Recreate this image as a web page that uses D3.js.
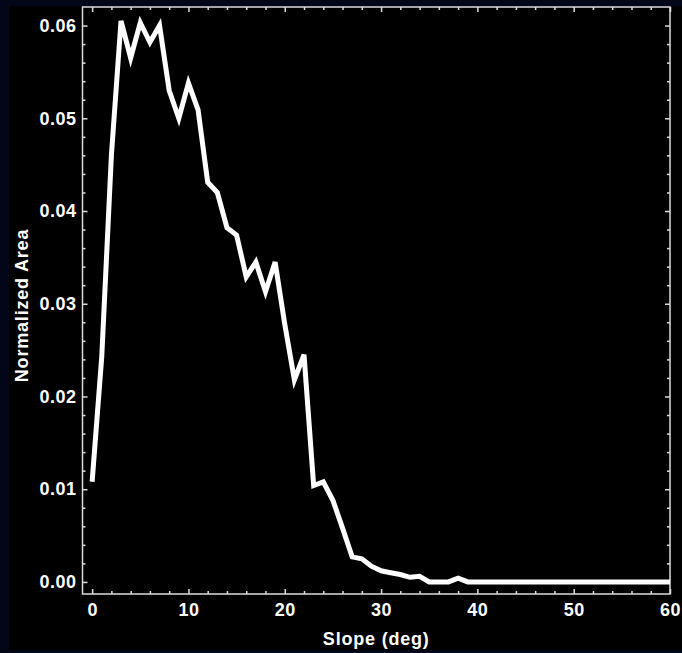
<!DOCTYPE html>
<html>
<head>
<meta charset="utf-8">
<script src="https://cdn.jsdelivr.net/npm/d3@7"></script>
<style>
  html, body { margin: 0; padding: 0; background: #020618; }
  svg { display: block; }
  .axis text { fill: #ffffff; font-family: "Liberation Sans", Arial, sans-serif; font-weight: bold; font-size: 18px; letter-spacing: 0.5px; }
  .axis line { stroke: #dcdcdc; stroke-width: 1.5; }
  .axis path { display: none; }
  .axis-label { fill: #ffffff; font-family: "Liberation Sans", Arial, sans-serif; font-weight: bold; font-size: 18px; letter-spacing: 0.8px; }
</style>
</head>
<body>
<svg id="chart"></svg>
<script>
// slope bins (deg) and normalized area per bin
const slopeDeg = [0, 1, 2, 3, 4, 5, 6, 7, 8, 9, 10, 11, 12, 13, 14, 15, 16, 17, 18, 19, 20,
  21, 22, 23, 24, 25, 26, 27, 28, 29, 30, 31, 32, 33, 34, 35, 36, 37, 38, 39, 40,
  41, 42, 43, 44, 45, 46, 47, 48, 49, 50, 51, 52, 53, 54, 55, 56, 57, 58, 59, 60];
const normArea = [0.0108, 0.0243, 0.0460, 0.0605, 0.0565, 0.0603, 0.0582, 0.0600, 0.0530, 0.0500,
  0.0538, 0.0509, 0.0431, 0.0420, 0.0382, 0.0374, 0.0329, 0.0345, 0.0313, 0.0345,
  0.0278, 0.0218, 0.0245, 0.0104, 0.0108, 0.0088, 0.0058, 0.0027, 0.0025, 0.0017,
  0.0012, 0.0010, 0.0008, 0.0005, 0.0006, 0.0000, 0.0000, 0.0000, 0.0004, 0.0000,
  0, 0, 0, 0, 0, 0, 0, 0, 0, 0, 0, 0, 0, 0, 0, 0, 0, 0, 0, 0, 0];

const xMajor = [0, 10, 20, 30, 40, 50, 60];
const xMinor = [2, 4, 6, 8, 12, 14, 16, 18, 22, 24, 26, 28, 32, 34, 36, 38, 42, 44, 46, 48, 52, 54, 56, 58];
const yMajor = [0, 0.01, 0.02, 0.03, 0.04, 0.05, 0.06];
const yMinor = [0.002, 0.004, 0.006, 0.008, 0.012, 0.014, 0.016, 0.018, 0.022, 0.024, 0.026, 0.028,
  0.032, 0.034, 0.036, 0.038, 0.042, 0.044, 0.046, 0.048, 0.052, 0.054, 0.056, 0.058];

const W = 682, H = 653;
const plot = { left: 82.5, right: 670, top: 7, bottom: 594 };

const svg = d3.select('#chart')
    .attr('width', W)
    .attr('height', H);

// black panel inside the navy border
svg.append('rect')
    .attr('x', 9).attr('y', 6)
    .attr('width', W - 9).attr('height', 644)
    .attr('fill', '#000000');

const x = d3.scaleLinear().domain([-1, 60]).range([plot.left, plot.right]);
const y = d3.scaleLinear().domain([-0.0013, 0.062]).range([plot.bottom, plot.top]);

// frame
svg.append('rect')
    .attr('x', plot.left).attr('y', plot.top)
    .attr('width', plot.right - plot.left)
    .attr('height', plot.bottom - plot.top)
    .attr('fill', 'none')
    .attr('stroke', '#dcdcdc')
    .attr('stroke-width', 1.5);

// bottom axis (labels + inward ticks)
svg.append('g').attr('class', 'axis')
    .attr('transform', `translate(0,${plot.bottom})`)
    .call(d3.axisBottom(x).tickValues(xMajor).tickSize(-5).tickPadding(9).tickFormat(d3.format('d')));
svg.append('g').attr('class', 'axis')
    .attr('transform', `translate(0,${plot.bottom})`)
    .call(d3.axisBottom(x).tickValues(xMinor).tickSize(-3).tickFormat(''));

// top axis (ticks only)
svg.append('g').attr('class', 'axis')
    .attr('transform', `translate(0,${plot.top})`)
    .call(d3.axisTop(x).tickValues(xMajor).tickSize(-5).tickFormat(''));
svg.append('g').attr('class', 'axis')
    .attr('transform', `translate(0,${plot.top})`)
    .call(d3.axisTop(x).tickValues(xMinor).tickSize(-3).tickFormat(''));

// left axis
svg.append('g').attr('class', 'axis')
    .attr('transform', `translate(${plot.left},0)`)
    .call(d3.axisLeft(y).tickValues(yMajor).tickSize(-5).tickPadding(6).tickFormat(d3.format('.2f')));
svg.append('g').attr('class', 'axis')
    .attr('transform', `translate(${plot.left},0)`)
    .call(d3.axisLeft(y).tickValues(yMinor).tickSize(-3).tickFormat(''));

// right axis (ticks only)
svg.append('g').attr('class', 'axis')
    .attr('transform', `translate(${plot.right},0)`)
    .call(d3.axisRight(y).tickValues(yMajor).tickSize(-5).tickFormat(''));
svg.append('g').attr('class', 'axis')
    .attr('transform', `translate(${plot.right},0)`)
    .call(d3.axisRight(y).tickValues(yMinor).tickSize(-3).tickFormat(''));

// the curve
const line = d3.line()
    .x((d, i) => x(slopeDeg[i]))
    .y(d => y(d));

svg.append('path')
    .datum(normArea)
    .attr('d', line)
    .attr('fill', 'none')
    .attr('stroke', '#ffffff')
    .attr('stroke-width', 5)
    .attr('stroke-linejoin', 'miter');

// axis titles
svg.append('text')
    .attr('class', 'axis-label')
    .attr('x', (plot.left + plot.right) / 2)
    .attr('y', 645)
    .style('text-anchor', 'middle')
    .text('Slope (deg)');

svg.append('text')
    .attr('class', 'axis-label')
    .attr('transform', `translate(28,${(plot.top + plot.bottom) / 2 + 5}) rotate(-90)`)
    .style('text-anchor', 'middle')
    .text('Normalized Area');
</script>
</body>
</html>
